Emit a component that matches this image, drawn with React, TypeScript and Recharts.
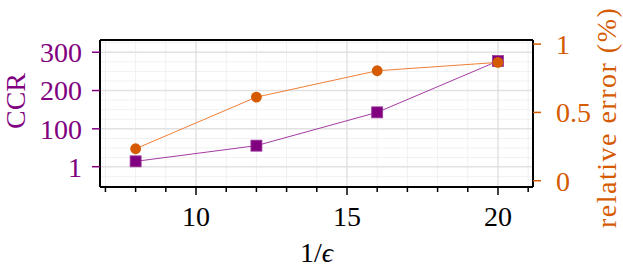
import {
  CartesianGrid,
  Line,
  LineChart,
  ReferenceLine,
  XAxis,
  YAxis,
} from "recharts";

const PURPLE = "#800080";
const PURPLE_LINE = "#a33ca3";
const ORANGE = "#d55a00";
const ORANGE_LINE = "#ef7f35";
const FONT = "Liberation Serif, DejaVu Serif, serif";

// data
const inverseEps = [8, 12, 16, 20];
const ccr = [15, 56, 143, 277];
const relError = [0.234, 0.612, 0.805, 0.866];

const xTicks = [7, 8, 9, 10, 11, 12, 13, 14, 15, 16, 17, 18, 19, 20, 21];
const xMajor = [10, 15, 20];
const ccrTicks = [1, 100, 200, 300];
const ccrMinor = [-25, 25, 50, 75, 125, 150, 175, 225, 250, 275, 325];
const errTicks = [0, 0.5, 1];

const X_DOMAIN: [number, number] = [6.82, 21.16];
const CCR_DOMAIN: [number, number] = [-52, 332];
const ERR_DOMAIN: [number, number] = [-0.046, 1.03];

const data = inverseEps.map((x, i) => ({ x, ccr: ccr[i], err: relError[i] }));

function XTick({ x, y, payload }: any) {
  const major = payload.value % 5 === 0;
  return (
    <g>
      <line x1={x} x2={x} y1={y} y2={y + (major ? 8 : 5)} stroke="#000" strokeWidth={1.5} />
      {major && (
        <text x={x} y={y + 39} textAnchor="middle" fontSize={28} style={{ fontFamily: FONT }} fill="#000">
          {payload.value}
        </text>
      )}
    </g>
  );
}

function SquareDot(p: any) {
  return (
    <rect
      key={`sq-${p.index}`}
      x={p.cx - 5.5}
      y={p.cy - 5.5}
      width={11}
      height={11}
      fill={PURPLE}
      stroke="#9a3a9a"
      strokeWidth={0.8}
    />
  );
}

function CircleDot(p: any) {
  return <circle key={`ci-${p.index}`} cx={p.cx} cy={p.cy} r={5.4} fill={ORANGE} />;
}

export default function App() {
  return (
    <div style={{ position: "absolute", left: 0, top: 0, background: "#fff", fontFamily: FONT }}>
      <LineChart
        width={623}
        height={271}
        data={data}
        margin={{ top: 40, right: 0, bottom: 0, left: 0 }}
        style={{ fontFamily: FONT }}
      >
        <CartesianGrid horizontal={false} stroke="#f1f1f1" strokeWidth={1} />
        {ccrMinor.map((v) => (
          <ReferenceLine key={`hm${v}`} yAxisId="left" y={v} stroke="#f1f1f1" strokeWidth={1} />
        ))}
        {ccrTicks.map((v) => (
          <ReferenceLine key={`hM${v}`} yAxisId="left" y={v} stroke="#e2e2e2" strokeWidth={1.5} />
        ))}
        {xMajor.map((v) => (
          <ReferenceLine key={`vM${v}`} yAxisId="left" x={v} stroke="#dcdcdc" strokeWidth={1} />
        ))}
        <ReferenceLine yAxisId="left" y={CCR_DOMAIN[1]} stroke="#000" strokeWidth={2} />
        <XAxis
          dataKey="x"
          type="number"
          domain={X_DOMAIN}
          ticks={xTicks}
          allowDataOverflow
          height={84}
          tickSize={0}
          tickMargin={0}
          tickLine={false}
          axisLine={{ stroke: "#000", strokeWidth: 2 }}
          tick={<XTick />}
          interval={0}
          label={{
            content: (props: any) => {
              const vb = props.viewBox;
              return (
                <text
                  x={vb.x + vb.width / 2}
                  y={262}
                  textAnchor="middle"
                  fontSize={28}
                  style={{ fontFamily: FONT }}
                  fill="#000"
                >
                  1/<tspan fontStyle="italic">ϵ</tspan>
                </text>
              );
            },
          }}
        />
        <YAxis
          yAxisId="left"
          type="number"
          domain={CCR_DOMAIN}
          ticks={ccrTicks}
          allowDataOverflow
          width={100}
          tickSize={8}
          tickMargin={10}
          interval={0}
          axisLine={{ stroke: "#000", strokeWidth: 2 }}
          tickLine={{ stroke: PURPLE, strokeWidth: 1.5 }}
          tick={{ fill: PURPLE, fontSize: 28, style: { fontFamily: FONT } }}
          label={{
            content: () => (
              <text
                transform="translate(15,101) rotate(-90)"
                textAnchor="middle"
                dominantBaseline="central"
                fontSize={28}
                style={{ fontFamily: FONT }}
                fill={PURPLE}
              >
                CCR
              </text>
            ),
          }}
        />
        <YAxis
          yAxisId="right"
          orientation="right"
          type="number"
          domain={ERR_DOMAIN}
          ticks={errTicks}
          allowDataOverflow
          width={90}
          tickSize={8}
          tickMargin={15}
          interval={0}
          axisLine={{ stroke: "#000", strokeWidth: 2 }}
          tickLine={{ stroke: ORANGE, strokeWidth: 1.5 }}
          tick={{ fill: ORANGE, fontSize: 28, textAnchor: "start", style: { fontFamily: FONT } }}
          label={{
            content: () => (
              <text
                transform="translate(606,228) rotate(-90)"
                textAnchor="start"
                dominantBaseline="central"
                fontSize={28}
                style={{ fontFamily: FONT }}
                letterSpacing={1.5}
                fill={ORANGE}
              >
                relative error (%)
              </text>
            ),
          }}
        />
        <Line
          yAxisId="left"
          dataKey="ccr"
          stroke={PURPLE_LINE}
          strokeWidth={1}
          dot={SquareDot}
          activeDot={false}
          isAnimationActive={false}
        />
        <Line
          yAxisId="right"
          dataKey="err"
          stroke={ORANGE_LINE}
          strokeWidth={1}
          dot={CircleDot}
          activeDot={false}
          isAnimationActive={false}
        />
      </LineChart>
    </div>
  );
}
